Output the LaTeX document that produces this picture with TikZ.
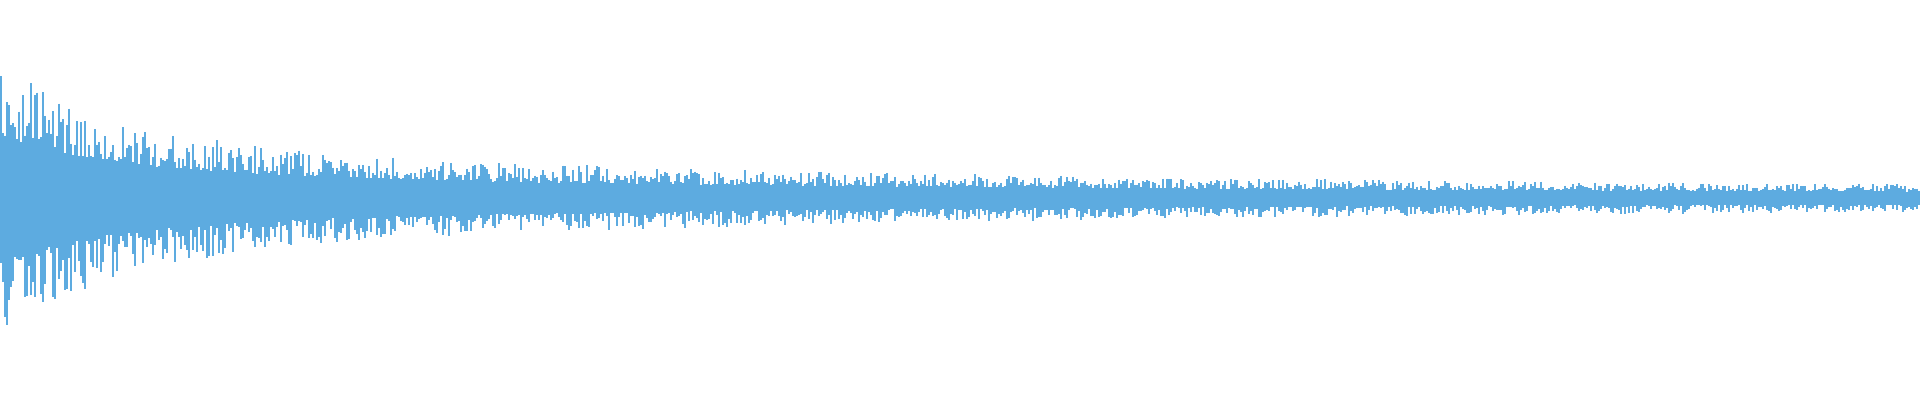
\documentclass[tikz,border=0pt]{standalone}
\definecolor{wave}{HTML}{5DABE0}
\begin{document}
\begin{tikzpicture}[x=0.01cm,y=-0.01cm, wl/.style={draw=wave,line width=0.012cm}]
\useasboundingbox (0,0) rectangle (1920,400);
\pgfmathsetseed{7}
\fill[wave] plot[domain=0:1920,samples=120] (\x,{198-0.35*(10+44*exp(-\x/800)+80*exp(-\x/120))})
  -- plot[domain=1920:0,samples=120] (\x,{198+0.35*(10+44*exp(-\x/800)+80*exp(-\x/120))}) -- cycle;
\foreach \i in {1,3,...,1919}{
  \pgfmathsetmacro{\A}{10+46*exp(-\i/800)+80*exp(-\i/120)}
  \pgfmathsetmacro{\t}{\A*(0.45+0.55*rnd^1.5)}
  \pgfmathsetmacro{\b}{\A*(0.45+0.55*rnd^1.5)}
  \draw[wl] (\i,{198-\t}) -- (\i,{198+\b});
}
\end{tikzpicture}
\end{document}
